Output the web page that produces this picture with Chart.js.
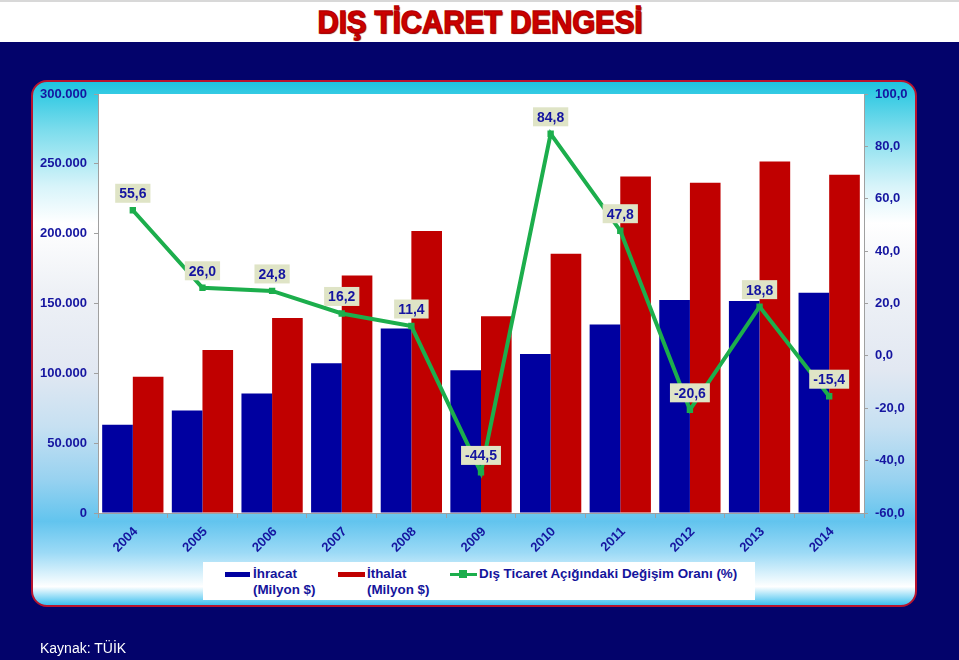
<!DOCTYPE html>
<html><head><meta charset="utf-8">
<script src="https://cdn.jsdelivr.net/npm/chart.js@4.4.1/dist/chart.umd.min.js"></script>
<style>
html,body{margin:0;padding:0;width:959px;height:660px;overflow:hidden;background:#03036b;font-family:"Liberation Sans",Arial,sans-serif;}
#top{position:absolute;left:0;top:0;width:959px;height:42px;background:#fff;border-top:2px solid #d8d8d8;box-sizing:border-box;}
#title{position:absolute;left:0;top:0;width:959px;height:42px;text-align:center;}
#title span{display:inline-block;font-weight:bold;font-size:32px;line-height:44px;color:#cc0000;-webkit-text-stroke:1.3px #b80000;text-shadow:1px 1px 1px #5a0000;transform-origin:center center;white-space:nowrap;}
#panel{position:absolute;left:31px;top:80px;width:886px;height:527px;border:2px solid #b8142e;border-radius:16px;box-sizing:border-box;
background:linear-gradient(to bottom,#1ec4e0 0%,#7adcec 9%,#d8f4fa 20%,#ffffff 27%,#eef1f6 40%,#e2e8f2 55%,#c6e0f2 66%,#98d2f0 76%,#62c4ee 84%,#9cdaf6 90%,#e8f7fd 95%,#ffffff 96.5%,#3cc0f0 100%);}
#legend{position:absolute;left:203px;top:562px;width:552px;height:38px;background:#fff;font-weight:bold;font-size:13.4px;color:#14149c;}
.sw{position:absolute;height:5px;}
.lt{position:absolute;line-height:16px;white-space:nowrap;}
#src{position:absolute;left:40px;top:640px;color:#fff;font-size:14px;}
#c{position:absolute;left:0;top:0;}
</style></head>
<body>
<div id="top"></div>
<div id="title"><span id="tt">DIŞ TİCARET DENGESİ</span></div>
<div id="panel"></div>
<canvas id="c" width="959" height="660"></canvas>
<div id="legend">
  <div class="sw" style="left:22px;top:10px;width:25px;background:#0000a0"></div>
  <div class="lt" style="left:50px;top:4px">İhracat<br>(Milyon $)</div>
  <div class="sw" style="left:135px;top:10px;width:27px;background:#c00000"></div>
  <div class="lt" style="left:164px;top:4px">İthalat<br>(Milyon $)</div>
  <div style="position:absolute;left:247px;top:11px;width:27px;height:3px;background:#1cae4c"></div>
  <div style="position:absolute;left:256px;top:8px;width:8px;height:8px;background:#1cae4c"></div>
  <div class="lt" style="left:276px;top:4px">Dış Ticaret Açığındaki Değişim Oranı (%)</div>
</div>
<div id="src">Kaynak: TÜİK</div>
<script>
const categories = ['2004','2005','2006','2007','2008','2009','2010','2011','2012','2013','2014'];
const ihracat = [63167, 73476, 85535, 107272, 132027, 102143, 113883, 134907, 152462, 151803, 157610];
const ithalat = [97540, 116774, 139576, 170063, 201964, 140928, 185544, 240842, 236545, 251661, 242177];
const degisim = [55.6, 26.0, 24.8, 16.2, 11.4, -44.5, 84.8, 47.8, -20.6, 18.8, -15.4];
const leftAxis = {min: 0, max: 300000, step: 50000};
const rightAxis = {min: -60, max: 100, step: 20};

// fit title width
(function(){
  const cv=document.createElement('canvas').getContext('2d');
  cv.font='bold 32px "Liberation Sans"';
  const w=cv.measureText('DIŞ TİCARET DENGESİ').width;
  document.getElementById('tt').style.transform='scaleX('+(325/w)+')';
})();

const tickColor='#1515a0';
const fmtLeft=v=>String(v).replace(/\B(?=(\d{3})+(?!\d))/g,'.');
const fmtRight=v=>Number(v).toFixed(1).replace('.',',');

const whiteArea={id:'whiteArea',beforeDraw(ch){const a=ch.chartArea,c=ch.ctx;c.save();c.fillStyle='#fff';c.fillRect(a.left,a.top,a.right-a.left,a.bottom-a.top);c.restore();}};
const labels={id:'lbls',afterDatasetsDraw(ch){
  const c=ch.ctx,meta=ch.getDatasetMeta(2);
  c.save();c.font='bold 14px "Liberation Sans"';c.textAlign='center';c.textBaseline='middle';
  meta.data.forEach((p,i)=>{
    const t=fmtRight(degisim[i]);const w=c.measureText(t).width+8;const h=19;
    const cx=p.x,cy=p.y-17;
    c.fillStyle='#dfe4c6';c.fillRect(cx-w/2,cy-h/2,w,h);
    c.fillStyle='#1414a0';c.fillText(t,cx,cy+1);
  });
  c.restore();}};

new Chart(document.getElementById('c'),{
  data:{labels:categories,datasets:[
    {type:'bar',label:'İhracat (Milyon $)',data:ihracat,backgroundColor:'#0000a0',yAxisID:'y',order:2,categoryPercentage:0.88,barPercentage:1.0},
    {type:'bar',label:'İthalat (Milyon $)',data:ithalat,backgroundColor:'#c00000',yAxisID:'y',order:2,categoryPercentage:0.88,barPercentage:1.0},
    {type:'line',label:'Dış Ticaret Açığındaki Değişim Oranı (%)',data:degisim,borderColor:'#1cae4c',backgroundColor:'#1cae4c',borderWidth:4,pointStyle:'rect',pointRadius:4.5,pointBackgroundColor:'#1cae4c',pointBorderWidth:0,tension:0,yAxisID:'y1',order:1}
  ]},
  options:{responsive:false,animation:false,devicePixelRatio:1,
    layout:{padding:{top:94,left:0,right:0,bottom:0}},
    plugins:{legend:{display:false},tooltip:{enabled:false},title:{display:false}},
    scales:{
      x:{offset:true,grid:{display:true,drawOnChartArea:false,tickLength:5,color:'#a0a0a0',offset:true},border:{color:'#a0a0a0'},
         ticks:{color:tickColor,font:{family:'Liberation Sans',weight:'bold',size:13},maxRotation:45,minRotation:45,padding:6,labelOffset:3},
         afterFit(s){s.height=147;}},
      y:{position:'left',min:leftAxis.min,max:leftAxis.max,grid:{drawOnChartArea:false,tickLength:4,color:'#a0a0a0'},border:{color:'#a0a0a0'},
         ticks:{stepSize:leftAxis.step,color:tickColor,font:{family:'Liberation Sans',weight:'bold',size:13},padding:7,callback:v=>fmtLeft(v)},
         afterFit(s){s.width=98;}},
      y1:{position:'right',min:rightAxis.min,max:rightAxis.max,grid:{drawOnChartArea:false,tickLength:4,color:'#a0a0a0'},border:{color:'#a0a0a0'},
         ticks:{stepSize:rightAxis.step,color:tickColor,font:{family:'Liberation Sans',weight:'bold',size:13},padding:7,callback:v=>fmtRight(v)},
         afterFit(s){s.width=95;}}
    }},
  plugins:[whiteArea,labels]
});
</script>
</body></html>
